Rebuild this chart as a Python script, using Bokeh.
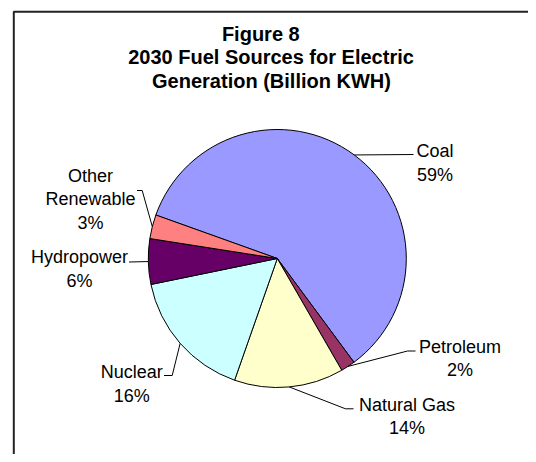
import math
from bokeh.plotting import figure
from bokeh.models import Range1d
from bokeh.core.properties import value
from bokeh.embed import file_html
from bokeh.resources import INLINE

# ---- data ----
categories = ["Coal", "Petroleum", "Natural Gas", "Nuclear", "Hydropower", "Other Renewable"]
shares = [59.4, 1.8, 13.7, 16.4, 5.7, 3.0]
colors = ["#9999FF", "#993366", "#FFFFCC", "#CCFFFF", "#660066", "#FF8080"]
title_lines = ["Figure 8", "2030 Fuel Sources for Electric", "Generation (Billion KWH)"]
label_lines = [["Coal"], ["Petroleum"], ["Natural Gas"], ["Nuclear"], ["Hydropower"], ["Other", "Renewable"]]

# ---- layout (pixel coordinates of the picture) ----
W, H = 528, 454
def Y(sy):
    return H - sy

CX, CY, R = 276.8, 258.0, 129.0
START_DEG = 160.3
FONT = "Liberation Sans"

# label anchor: (center x, first baseline y) per slice
label_pos = [(434.5, 150.5), (459.5, 346.0), (406.5, 404.0), (131.3, 371.7), (79.0, 256.7), (90.0, 175.0)]
LINE_STEP = 23.8
# leader elbows after the anchor on the pie edge
elbows = [
    [(413.0, 154.0)],
    [(407.0, 350.5), (415.0, 350.5)],
    [(345.0, 408.3), (353.0, 408.3)],
    [(171.7, 375.0), (163.5, 375.0)],
    [(128.5, 261.5)],
    [(141.7, 190.0), (136.5, 190.0)],
]

p = figure(width=W, height=H, output_backend="svg", toolbar_location=None,
           x_range=Range1d(0, W), y_range=Range1d(0, H), min_border=0)
p.axis.visible = False
p.grid.visible = False
p.outline_line_color = None
p.background_fill_color = "white"
p.border_fill_color = "white"

# frame border (left and top edges visible)
p.line([13.3, 13.3, 540], [Y(470), Y(11.3), Y(11.3)], line_color="#222222", line_width=2)

# wedges
total = sum(shares)
cum = 0.0
mids = []
for cat, v, col in zip(categories, shares, colors):
    a0 = START_DEG - cum / total * 360.0
    a1 = a0 - v / total * 360.0
    cum += v
    mids.append((a0 + a1) / 2.0)
    p.wedge(x=CX, y=Y(CY), radius=R, start_angle=math.radians(a0), end_angle=math.radians(a1),
            direction="clock", fill_color=col, line_color="black", line_width=1)

# leader lines
for mid, el in zip(mids, elbows):
    ax = CX + R * math.cos(math.radians(mid))
    ay = CY - R * math.sin(math.radians(mid))
    xs = [ax] + [e[0] for e in el]
    ys = [Y(ay)] + [Y(e[1]) for e in el]
    p.line(xs, ys, line_color="black", line_width=1)

# labels
for lines, v, (lx, ly) in zip(label_lines, shares, label_pos):
    all_lines = lines + [f"{round(v)}%"]
    for i, t in enumerate(all_lines):
        p.text(x=[lx], y=[Y(ly + i * LINE_STEP)], text=[t], text_font=value(FONT),
               text_font_size="18px", text_align="center", text_baseline="alphabetic",
               text_color="black")

# title
title_pos = [(260.3, 33.3), (270.5, 56.8), (271.0, 80.3)]
for t, (tx, ty) in zip(title_lines, title_pos):
    p.text(x=[tx], y=[Y(ty)], text=[t], text_font=value(FONT), text_font_size="20px",
           text_font_style="bold", text_align="center", text_baseline="alphabetic",
           text_color="black")

open("out.html", "w").write(file_html(p, INLINE))
